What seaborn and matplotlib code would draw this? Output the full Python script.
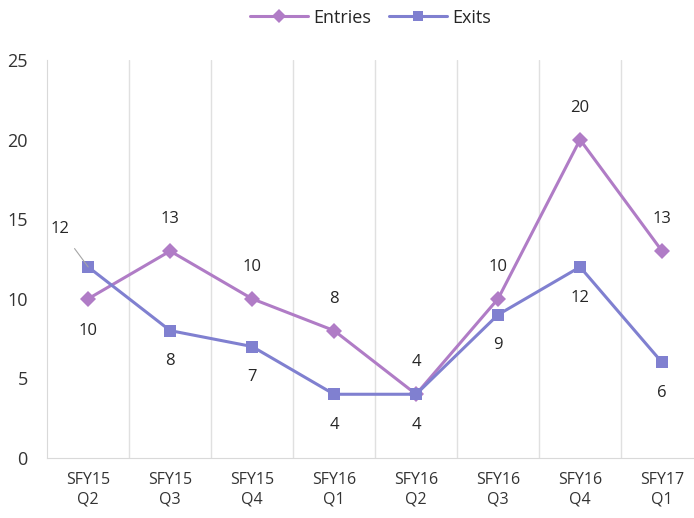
import pandas as pd
import matplotlib
matplotlib.use("Agg")
import matplotlib.pyplot as plt
import seaborn as sns

# data
quarters = ["SFY15\nQ2", "SFY15\nQ3", "SFY15\nQ4", "SFY16\nQ1",
            "SFY16\nQ2", "SFY16\nQ3", "SFY16\nQ4", "SFY17\nQ1"]
entries = [10, 13, 10, 8, 4, 10, 20, 13]
exits = [12, 8, 7, 4, 4, 9, 12, 6]

# label placement: +1 above point, -1 below point
entries_pos = [-1, 1, 1, 1, 1, 1, 1, 1]
exits_pos = [1, -1, -1, -1, -1, -1, -1, -1]

entries_color = "#b07cc6"
exits_color = "#8080d0"

sns.set_style("white")
plt.rcParams['font.family'] = ['Open Sans', 'DejaVu Sans']

x = list(range(len(quarters)))
df = pd.DataFrame({"x": x + x,
                   "value": entries + exits,
                   "series": ["Entries"] * len(x) + ["Exits"] * len(x)})

fig = plt.figure(figsize=(6.94, 5.18), dpi=100)
ax = fig.add_axes([0.068, 0.116, 0.932, 0.768])

sns.lineplot(data=df, x="x", y="value", hue="series", style="series",
             palette=[entries_color, exits_color],
             markers=["D", "s"], dashes=False, linewidth=2.2,
             markersize=8.5, markeredgewidth=0, ax=ax)

ax.set_xlim(-0.5, 7.39)
ax.set_ylim(0, 25)
ax.set_yticks([0, 5, 10, 15, 20, 25])
ax.set_xticks(x)
ax.set_xticklabels(quarters, fontsize=11.5, linespacing=1.3)
ax.tick_params(axis="y", labelsize=13, length=0, pad=14, labelcolor="#333333")
ax.tick_params(axis="x", length=0, pad=10, labelcolor="#333333")
ax.set_xlabel("")
ax.set_ylabel("")

# vertical separators between categories
for b in range(len(quarters) - 1):
    ax.axvline(b + 0.5, color="#e0e0e0", linewidth=1, zorder=0)

for side in ["top", "right"]:
    ax.spines[side].set_visible(False)
ax.spines["left"].set_color("#d9d9d9")
ax.spines["bottom"].set_color("#d9d9d9")

# data labels
for i, v in enumerate(entries):
    ax.annotate(str(v), (i, v), xytext=(0, 23 * entries_pos[i]),
                textcoords="offset points", ha="center", va="center",
                fontsize=12, color="#262626")
for i, v in enumerate(exits):
    if i == 0:
        ax.annotate(str(v), (i, v), xytext=(-20, 27),
                    textcoords="offset points", ha="center", va="center",
                    fontsize=12, color="#262626",
                    arrowprops=dict(arrowstyle="-", color="#a6a6a6",
                                    lw=0.8, shrinkA=7, shrinkB=0))
    else:
        ax.annotate(str(v), (i, v), xytext=(0, 22 * exits_pos[i]),
                    textcoords="offset points", ha="center", va="center",
                    fontsize=12, color="#262626")

leg = ax.legend(loc="upper center", bbox_to_anchor=(0.5, 1.17), ncol=2,
                frameon=False, fontsize=13, handlelength=3.2,
                columnspacing=1.0, handletextpad=0.3, markerscale=0.85)
for t in leg.get_texts():
    t.set_color("#262626")

fig.savefig("out.png", dpi=100)
